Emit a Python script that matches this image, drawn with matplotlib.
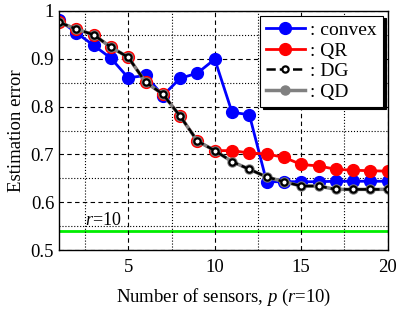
import numpy as np
import matplotlib
matplotlib.use('Agg')
from matplotlib import pyplot as plt
from matplotlib.ticker import FixedLocator

plt.rcParams['font.family'] = ['Liberation Serif', 'DejaVu Serif']
plt.rcParams['mathtext.fontset'] = 'custom'
plt.rcParams['mathtext.it'] = 'Liberation Serif:italic'
plt.rcParams['mathtext.rm'] = 'Liberation Serif'

p = np.arange(1, 21)
convex = [0.981, 0.954, 0.928, 0.901, 0.860, 0.865, 0.823, 0.859, 0.870, 0.899,
          0.788, 0.783, 0.643, 0.643, 0.643, 0.643, 0.644, 0.644, 0.644, 0.644]
qr = [0.976, 0.962, 0.950, 0.924, 0.903, 0.851, 0.826, 0.780, 0.728, 0.708,
      0.708, 0.703, 0.701, 0.694, 0.679, 0.676, 0.669, 0.667, 0.666, 0.665]
dg = [0.976, 0.962, 0.950, 0.924, 0.903, 0.851, 0.826, 0.780, 0.728, 0.708,
      0.685, 0.669, 0.653, 0.643, 0.634, 0.634, 0.627, 0.627, 0.627, 0.627]
qd = dg
r_level = 0.541
yticks = [0.5, 0.6, 0.7, 0.8, 0.9, 1.0]
ylabels = ['0.5', '0.6', '0.7', '0.8', '0.9', '1']

fig = plt.figure(figsize=(4.16, 3.10), dpi=100)
ax = fig.add_axes([0.142, 0.193, 0.79, 0.772])

ax.axhline(r_level, color='#00ee00', lw=2, zorder=1)
ax.text(2.5, 0.553, '$r$=10', fontsize=13)

ax.plot(p, convex, '-o', color='blue', lw=2, ms=8.5, label=': convex', zorder=3)
ax.plot(p, qr, '-o', color='red', lw=2, ms=8.5, label=': QR', zorder=4)
ax.plot(p, qd, '-o', color='gray', lw=2.5, ms=6.5, label=': QD', zorder=5)
ax.plot(p, dg, '--o', color='black', lw=1.8, ms=4.5, mfc='white', mec='black',
        mew=1.6, label=': DG', zorder=6)

ax.set_xlim(1, 20)
ax.set_ylim(0.5, 1.0)
ax.xaxis.set_major_locator(FixedLocator([5, 10, 15, 20]))
ax.xaxis.set_minor_locator(FixedLocator([2.5, 7.5, 12.5, 17.5]))
ax.set_yticks(yticks, ylabels)
ax.yaxis.set_minor_locator(FixedLocator([0.55, 0.65, 0.75, 0.85, 0.95]))
ax.grid(which='major', ls='--', color='black', lw=0.8, dashes=(4, 3))
ax.grid(which='minor', ls=':', color='black', lw=0.8)
ax.tick_params(which='both', direction='in', labelsize=13.5, length=0)
ax.tick_params(axis='x', pad=6)
ax.set_xlabel('Number of sensors, $p$ ($r$=10)', fontsize=13.5, labelpad=8)
ax.set_ylabel('Estimation error', fontsize=13.5)
for s in ax.spines.values():
    s.set_linewidth(1.0)
    s.set_zorder(10)

h, l = ax.get_legend_handles_labels()
order = [0, 1, 3, 2]
leg = ax.legend([h[i] for i in order], [l[i] for i in order], loc='upper right',
                fontsize=14, handlelength=2.0, handletextpad=0.3, labelspacing=0.15,
                borderpad=0.3, fancybox=False, framealpha=1, edgecolor='black',
                shadow={'color': 'black', 'alpha': 1}, borderaxespad=0.25)
leg.get_frame().set_linewidth(0.8)

fig.savefig('out.png', dpi=100)
